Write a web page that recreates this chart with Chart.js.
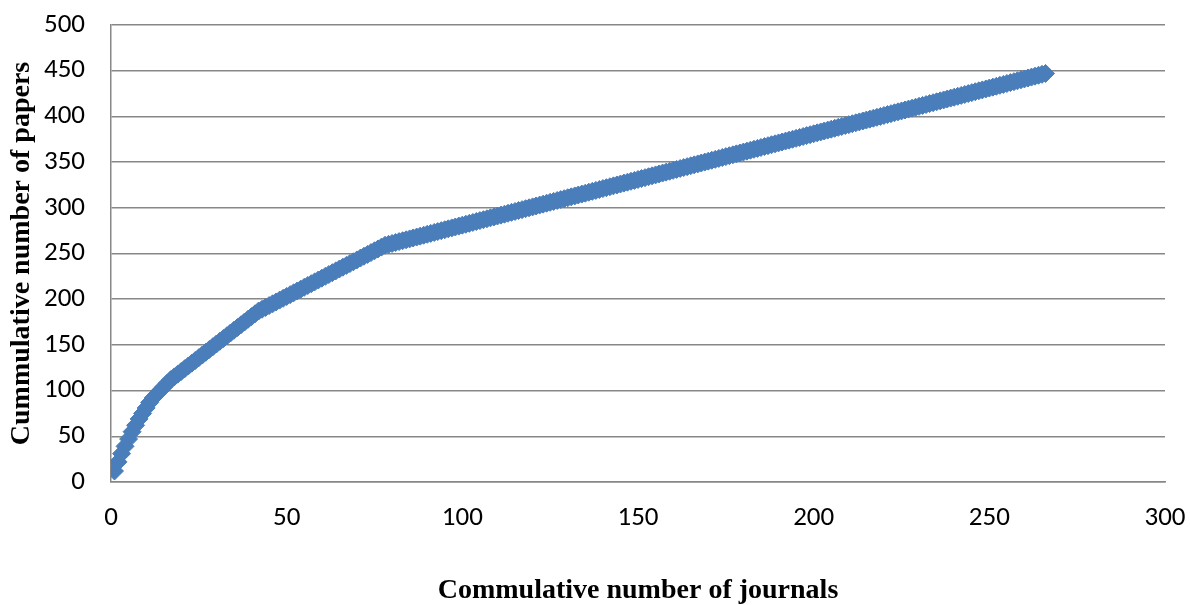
<!DOCTYPE html>
<html>
<head>
<meta charset="utf-8">
<title>Cumulative papers vs cumulative journals</title>
<script src="https://cdn.jsdelivr.net/npm/chart.js@4/dist/chart.umd.min.js"></script>
<style>
  html, body { margin: 0; padding: 0; background: #ffffff; }
  #wrap { width: 1190px; height: 605px; position: relative; }
</style>
</head>
<body>
<div id="wrap"><canvas id="chart"></canvas></div>
<script>
// Cumulative number of papers after each journal (journals ranked by productivity)
const cumulativePapers = [
  12, 22, 31, 39, 47, 55, 62, 69, 75, 81, 87,
  92, 96, 100, 104, 108, 112, 115, 118, 121, 124, 127, 130,
  133, 136, 139, 142, 145, 148, 151, 154, 157, 160, 163, 166, 169, 172, 175, 178, 181, 184, 187,
  189, 191, 193, 195, 197, 199, 201, 203, 205, 207, 209, 211, 213, 215, 217, 219, 221, 223,
  225, 227, 229, 231, 233, 235, 237, 239, 241, 243, 245, 247, 249, 251, 253, 255, 257, 259,
  260, 261, 262, 263, 264, 265, 266, 267, 268, 269, 270, 271, 272, 273, 274, 275, 276, 277, 278, 279,
  280, 281, 282, 283, 284, 285, 286, 287, 288, 289, 290, 291, 292, 293, 294, 295, 296, 297, 298, 299,
  300, 301, 302, 303, 304, 305, 306, 307, 308, 309, 310, 311, 312, 313, 314, 315, 316, 317, 318, 319,
  320, 321, 322, 323, 324, 325, 326, 327, 328, 329, 330, 331, 332, 333, 334, 335, 336, 337, 338, 339,
  340, 341, 342, 343, 344, 345, 346, 347, 348, 349, 350, 351, 352, 353, 354, 355, 356, 357, 358, 359,
  360, 361, 362, 363, 364, 365, 366, 367, 368, 369, 370, 371, 372, 373, 374, 375, 376, 377, 378, 379,
  380, 381, 382, 383, 384, 385, 386, 387, 388, 389, 390, 391, 392, 393, 394, 395, 396, 397, 398, 399,
  400, 401, 402, 403, 404, 405, 406, 407, 408, 409, 410, 411, 412, 413, 414, 415, 416, 417, 418, 419,
  420, 421, 422, 423, 424, 425, 426, 427, 428, 429, 430, 431, 432, 433, 434, 435, 436, 437, 438, 439,
  440, 441, 442, 443, 444, 445, 446, 447
];

// Cumulative journal count is the rank of each journal (1, 2, 3, ...)
const cumulativeJournals = cumulativePapers.map((_, i) => i + 1);

const xTickValues = [0, 50, 100, 150, 200, 250, 300];
const yTickValues = [0, 50, 100, 150, 200, 250, 300, 350, 400, 450, 500];

const xAxisTitle = 'Commulative number of journals';
const yAxisTitle = 'Cummulative number of papers';

const points = cumulativeJournals.map((x, i) => ({ x: x, y: cumulativePapers[i] }));

const AXIS_GREY = '#878787';
const MARKER_BLUE = '#4a7ebb';
const tickFont = { family: 'Carlito, Calibri, Lato, "Open Sans", sans-serif', size: 27 };
const titleFont = { family: '"Liberation Serif", "Times New Roman", serif', size: 28, weight: 'bold', lineHeight: 1.0 };

new Chart(document.getElementById('chart'), {
  type: 'scatter',
  data: {
    datasets: [{
      data: points,
      showLine: false,
      pointStyle: 'rectRot',
      pointRadius: 9,
      pointBorderWidth: 1,
      backgroundColor: MARKER_BLUE,
      borderColor: MARKER_BLUE
    }]
  },
  options: {
    responsive: true,
    maintainAspectRatio: false,
    animation: false,
    events: [],
    layout: { padding: { top: 25, right: 25, bottom: 0, left: 0 } },
    plugins: { legend: { display: false }, tooltip: { enabled: false } },
    scales: {
      x: {
        type: 'linear',
        min: 0,
        max: 300,
        afterBuildTicks: (scale) => { scale.ticks = xTickValues.map(v => ({ value: v })); },
        afterFit: (scale) => {
          scale.height = 123;
          scale.paddingLeft = 0;
          scale.paddingRight = 0;
        },
        grid: { display: false, drawTicks: false },
        border: { display: true, color: AXIS_GREY, width: 1.5 },
        ticks: { color: '#000000', font: tickFont, padding: 20, maxRotation: 0 },
        title: { display: true, text: xAxisTitle, color: '#000000', font: titleFont, padding: { top: 0, bottom: 0 } }
      },
      y: {
        type: 'linear',
        min: 0,
        max: 500,
        afterBuildTicks: (scale) => { scale.ticks = yTickValues.map(v => ({ value: v })); },
        afterFit: (scale) => {
          scale.width = 111;
          scale.paddingTop = 0;
          scale.paddingBottom = 0;
        },
        grid: { color: AXIS_GREY, lineWidth: 1.5, drawTicks: false },
        border: { display: true, color: AXIS_GREY, width: 1.5 },
        ticks: { color: '#000000', font: tickFont, padding: 26 },
        title: { display: true, text: yAxisTitle, color: '#000000', font: titleFont, padding: { top: 8, bottom: 0 } }
      }
    }
  }
});
</script>
</body>
</html>
